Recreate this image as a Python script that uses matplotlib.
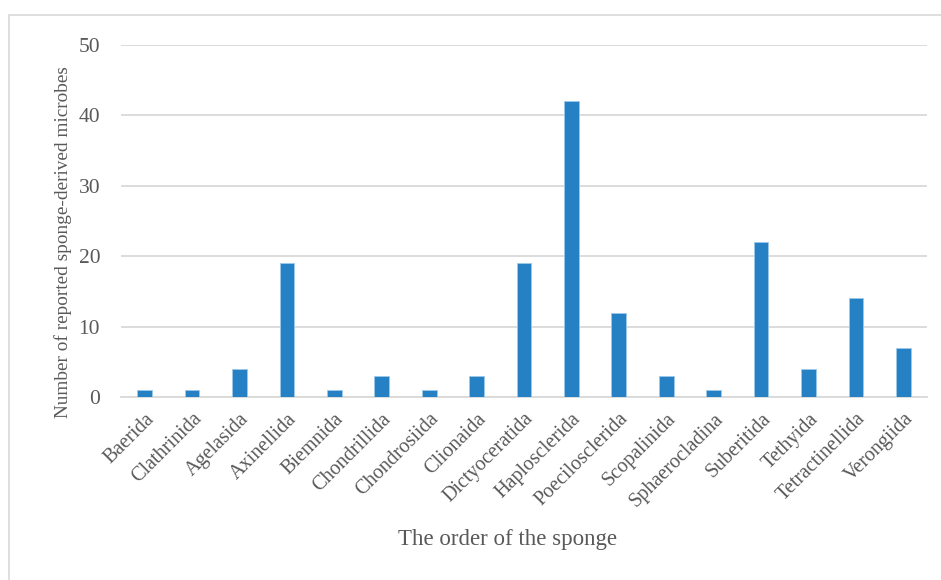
import matplotlib
matplotlib.use("Agg")
import matplotlib.pyplot as plt
from matplotlib.patches import Rectangle

categories = ["Baerida", "Clathrinida", "Agelasida", "Axinellida", "Biemnida",
              "Chondrillida", "Chondrosiida", "Clionaida", "Dictyoceratida",
              "Haplosclerida", "Poecilosclerida", "Scopalinida", "Sphaerocladina",
              "Suberitida", "Tethyida", "Tetractinellida", "Verongiida"]
values = [1, 1, 4, 19, 1, 3, 1, 3, 19, 42, 12, 3, 1, 22, 4, 14, 7]
yticks = [0, 10, 20, 30, 40, 50]

W, H = 941, 580
fig = plt.figure(figsize=(W / 100, H / 100), dpi=100)
plt.rcParams['font.family'] = ['Liberation Serif', 'DejaVu Serif']
txt = '#595959'

# outer chart border (top and left visible)
fig.patches.append(Rectangle((9 / W, 0 - 0.01), 1.2, (H - 15) / H + 0.01,
                             transform=fig.transFigure, fill=False,
                             edgecolor='#d9d9d9', linewidth=1.2))

left, right, top, bottom = 121, 927, 45, 397
ax = fig.add_axes([left / W, 1 - bottom / H, (right - left) / W, (bottom - top) / H])

x = range(len(categories))
ax.bar(x, values, width=0.31, color='#2581c3', edgecolor='#9cc8ea', linewidth=0.6, zorder=3)
ax.set_xlim(-0.5, len(categories) - 0.5)
ax.set_ylim(0, 50)
ax.set_yticks(yticks)
ax.set_yticklabels([str(v) for v in yticks], fontsize=15.5, color=txt)
ax.set_xticks(list(x))
ax.set_xticklabels(categories, rotation=45, ha='right', va='top',
                   rotation_mode='anchor', fontsize=14.5, color=txt)
ax.tick_params(axis='both', length=0)
ax.tick_params(axis='y', pad=15)
ax.tick_params(axis='x', pad=9)
ax.grid(axis='y', color='#d9d9d9', linewidth=1.3, zorder=0)
for s in ['top', 'right', 'left']:
    ax.spines[s].set_visible(False)
ax.spines['bottom'].set_color('#d9d9d9')
ax.spines['bottom'].set_linewidth(1.3)

fig.text(63 / W, 1 - 242 / H, 'Number of reported sponge-derived microbes',
         rotation=90, ha='center', va='center', fontsize=13.9, color=txt)
fig.text(508 / W, 1 - 540 / H, 'The order of the sponge',
         ha='center', va='center', fontsize=16.5, color=txt)

fig.savefig('out.png', dpi=100)
